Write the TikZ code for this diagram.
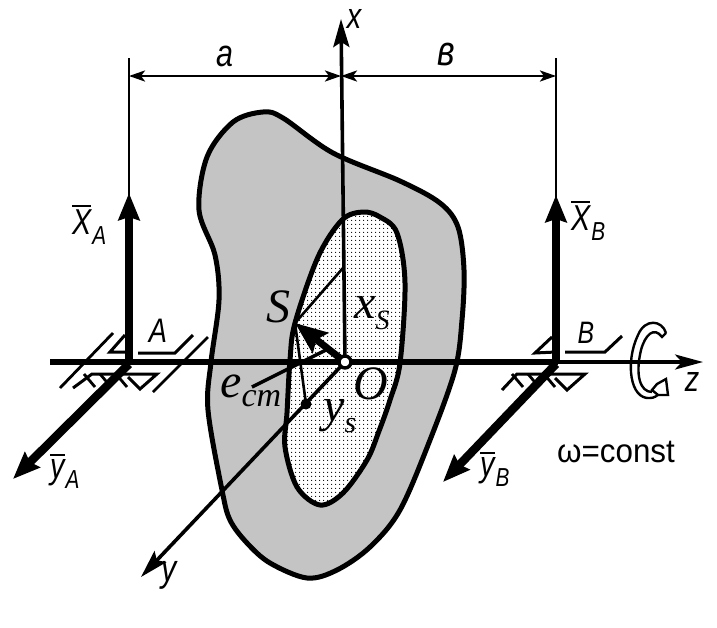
\documentclass[tikz,border=0pt]{standalone}
\usepackage{fontspec}
\setmainfont{Liberation Sans}
\newfontfamily\serifit{Liberation Serif}[Scale=1.0]
\newfontfamily\handit{Liberation Sans}[FakeStretch=0.8]
\newfontfamily\handup{Liberation Sans}[FakeStretch=0.95]
\usetikzlibrary{ arrows.meta, calc, patterns.meta }
\newcommand{\fs}[1]{\fontsize{#1}{#1}\selectfont}
\newcommand{\barred}[1]{\leavevmode\vbox{\hrule height 2pt \kern 3pt \hbox{#1}}}
\newcommand{\hand}[3]{{\handit\itshape\fs{36}\barred{#1}\raisebox{-10pt}{\kern1pt\fs{#3}#2}}}
\tikzset{
  x=1pt, y=-1pt, % picture coordinates are reference pixels
  every node/.style={inner sep=0pt},
  thinline/.style={line width=2.6pt},
  axisline/.style={line width=3.6pt},
  beamline/.style={line width=6pt},
  bearing/.style={line width=3pt, line join=miter},
  hatchline/.style={line width=2.8pt},
  dimtip/.style={{Stealth[length=16pt,width=11pt,inset=4pt]}-{Stealth[length=16pt,width=11pt,inset=4pt]}, thinline},
  axistip/.style={-{Stealth[length=28pt,width=16pt,inset=5pt]}, axisline},
  forcetip/.style={-{Stealth[length=27pt,width=21pt,inset=3pt]}, line width=8.5pt},
  bodyline/.style={line width=5pt, line join=round},
  serif/.style={font=\serifit\itshape\fs{48}},
}
\begin{document}
\begin{tikzpicture}
  \useasboundingbox (0,0) rectangle (717,627);
  % reference points
  \coordinate (o) at (345,362);
  \coordinate (pa) at (129,364);
  \coordinate (pb) at (556,364);
  \coordinate (s) at (295,323);
  \coordinate (xs) at (343,268);
  \coordinate (ys) at (306,404);
  \coordinate (xtip) at (341,19);
  \coordinate (ytip) at (141,577);
  \coordinate (ztip) at (703,362);
  \coordinate (zleft) at (50,362);
  \coordinate (ztop) at (558,362);
  \coordinate (xa) at (129,193);
  \coordinate (xb) at (556,195);
  \coordinate (ya) at (13,479);
  \coordinate (yb) at (443,482);
  \coordinate (da) at (129,58);
  \coordinate (db) at (556,58);
  \coordinate (d1) at (129,76);
  \coordinate (d2) at (341,76);
  \coordinate (d3) at (556,76);
  \coordinate (e1) at (252,387);
  \coordinate (e2) at (330,348);

  % body
  \path[pattern={Dots[distance=2pt,radius=.68pt]}] plot[smooth cycle,tension=.55] coordinates {
    (263,112) (283,118) (333,153) (400,181) (440,203) (458,227) (464,270) (462,320) (455,370) (430,440)
    (400,510) (370,547) (337,570) (307,578) (270,563) (247,543) (230,520) (222,490) (208,410)
    (211,362) (219,300) (215,255) (199,210) (207,157) (233,122)};
  \draw[bodyline] plot[smooth cycle,tension=.55] coordinates {
    (263,112) (283,118) (333,153) (400,181) (440,203) (458,227) (464,270) (462,320) (455,370) (430,440)
    (400,510) (370,547) (337,570) (307,578) (270,563) (247,543) (230,520) (222,490) (208,410)
    (211,362) (219,300) (215,255) (199,210) (207,157) (233,122)};
  \fill[white] plot[smooth cycle,tension=.55] coordinates {
    (363,212) (380,217) (397,233) (405,283) (400,363) (390,400) (379,431) (367,460) (343,493) (320,505)
    (297,487) (285,447) (287,413) (290,360) (295,323) (318,257) (342,220)};
  \path[pattern={Dots[distance=4pt,radius=.75pt]}] plot[smooth cycle,tension=.55] coordinates {
    (363,212) (380,217) (397,233) (405,283) (400,363) (390,400) (379,431) (367,460) (343,493) (320,505)
    (297,487) (285,447) (287,413) (290,360) (295,323) (318,257) (342,220)};
  \draw[bodyline] plot[smooth cycle,tension=.55] coordinates {
    (363,212) (380,217) (397,233) (405,283) (400,363) (390,400) (379,431) (367,460) (343,493) (320,505)
    (297,487) (285,447) (287,413) (290,360) (295,323) (318,257) (342,220)};

  % dimensions
  \draw[thinline] (da) -- (pa);
  \draw[thinline] (db) -- (pb);
  \draw[dimtip] (d1) -- (d2);
  \draw[dimtip] (d2) -- (d3);

  % axes
  \draw[axistip] (o) -- (xtip);
  \draw[axistip] (o) -- (ytip);
  \draw[axisline, -{Stealth[length=28pt,width=15pt,inset=7pt]}] (ztop) -- (ztip);
  \draw[beamline] (zleft) -- (ztop);

  % bearing A
  \draw[hatchline] (113,333) -- (60,388);
  \draw[hatchline] (208,337) -- (153,392);
  \draw[bearing] (129,352) -- (110,352) -- (125,335);
  \draw[bearing] (138,353) -- (175,353) -- (193,335);
  \draw[bearing] (73,388) -- (92,374) -- (157,374) -- (140,389) -- (128,377);
  \foreach \hx in {84,100,116} {
    \draw[hatchline] (\hx,374) -- (\hx+11,387);
  }
  % bearing B
  \draw[bearing] (556,352) -- (535,353) -- (552,337);
  \draw[bearing] (565,352) -- (605,352) -- (622,336);
  \draw[bearing] (502,390) -- (517,374) -- (585,374) -- (567,390) -- (555,378);
  \foreach \hx in {512,528,544} {
    \draw[hatchline] (\hx,374) -- (\hx+11,387);
  }

  % reactions
  \draw[forcetip] (pa) -- (xa);
  \draw[forcetip] (pb) -- (xb);
  \draw[forcetip] (pa) -- (ya);
  \draw[forcetip] (pb) -- (yb);

  % eccentricity
  \draw[thinline] (s) -- (xs);
  \draw[thinline] (s) -- (ys);
  \draw[line width=3.4pt] (e1) -- (e2);
  \draw[line width=7pt, -{Stealth[length=32pt,width=25pt,inset=5pt]}] (o) -- (s);
  \fill (ys) circle (5.5);
  \draw[line width=3.4pt, fill=white] (o) circle (6);

  % rotation sign
  \draw[line width=2.4pt] (666,333) .. controls (662,320) and (645,318) .. (638,335) .. controls (625,362) and (630,400) .. (650,398) .. controls (654,398) and (657,396) .. (660,393);
  \draw[line width=2.4pt] (666,333) -- (662,337) .. controls (654,326) and (645,335) .. (641,350) .. controls (635,375) and (640,392) .. (652,392);
  \draw[line width=2.4pt, fill=white] (652,390) -- (657,384) -- (666,379) -- (668,395) -- (658,395) -- cycle;

  % labels
  \node[font=\handit\itshape\fs{38}] (la) at (225,56) {a};
  \node[font=\handit\itshape\fs{42}] (lb) at (446,55) {в};
  \node[font=\handit\itshape\fs{36}] (lx) at (354,19) {x};
  \node[font=\handit\itshape\fs{38}] (ly) at (169,575) {y};
  \node[font=\handit\itshape\fs{36}] (lz) at (692,382) {z};
  \node[font=\handit\itshape\fs{34}] (lA) at (158,331) {A};
  \node[font=\handit\itshape\fs{31}] (lB) at (586,333) {B};
  \node[anchor=west] (lxa) at (72,225) {\hand{X}{A}{26}};
  \node[anchor=west] (lxb) at (571,221) {\hand{X}{B}{26}};
  \node[anchor=west] (lya) at (50,471) {\hand{y}{A}{26}};
  \node[anchor=west] (lyb) at (480,469) {\hand{y}{B}{26}};
  \node[font=\handup\fs{33}] (lw) at (616,452) {ω=const};
  \node[serif] (ls) at (278,307) {S};
  \node[serif] (lo) at (371,384) {O};
  \node[serif, anchor=west] (lxs) at (354,313) {x\raisebox{-11pt}{\fs{28}S}};
  \node[serif, anchor=west] (lys) at (323,416) {y\raisebox{-11pt}{\fs{30}s}};
  \node[serif, anchor=west] (lecm) at (220,391) {e\raisebox{-9pt}{\fs{34}cm}};
\end{tikzpicture}
\end{document}
